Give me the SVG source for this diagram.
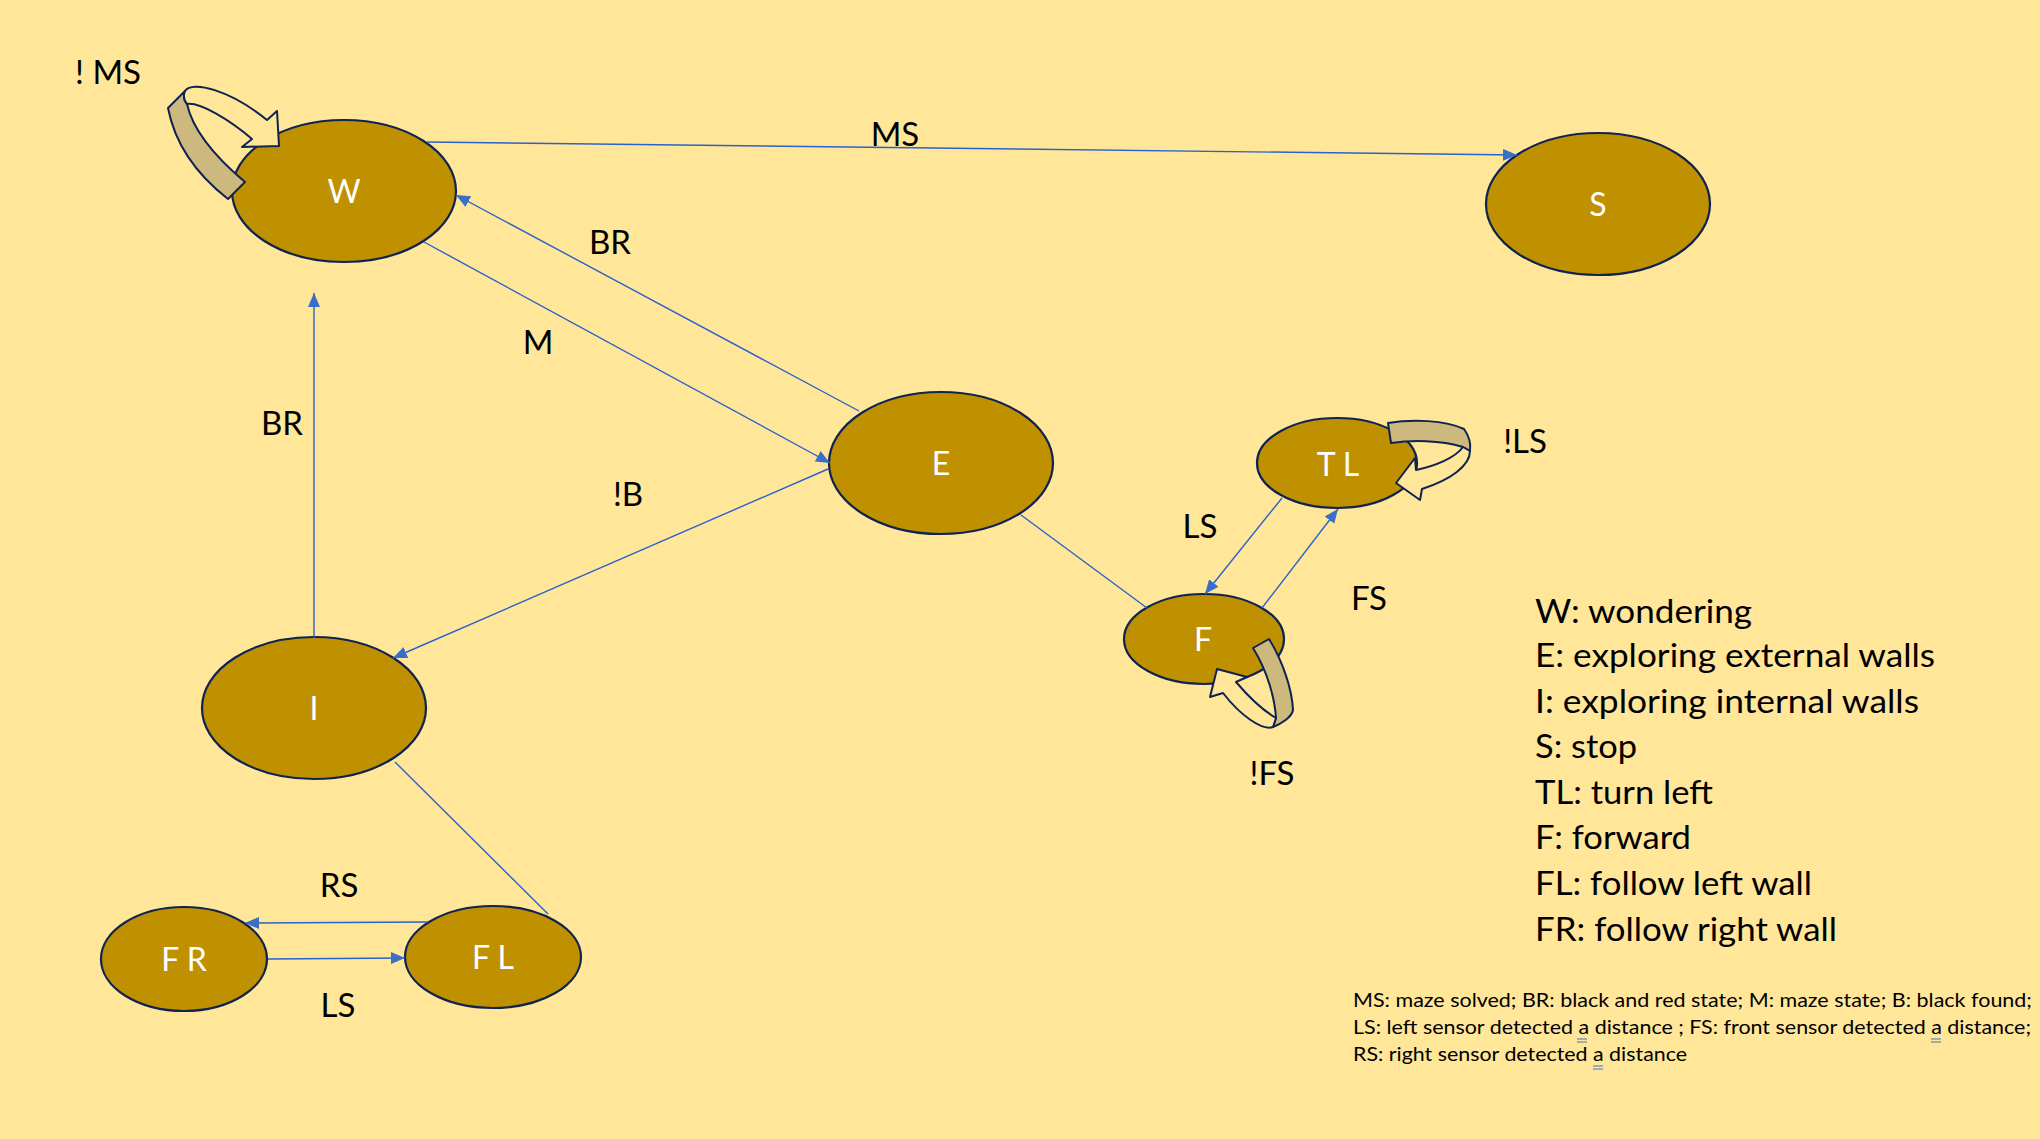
<svg xmlns="http://www.w3.org/2000/svg" width="2040" height="1139" viewBox="0 0 2040 1139">
<defs>
<style>
.node{fill:#BF9000;stroke:#0E2352;stroke-width:2.2}
.nl{font-family:Lato,"Open Sans","Liberation Sans",sans-serif;font-size:32px;fill:#FFFFFF;text-anchor:middle}
.el{font-family:Lato,"Open Sans","Liberation Sans",sans-serif;font-size:33px;fill:#000000;text-anchor:middle}
.lg{font-family:Lato,"Open Sans","Liberation Sans",sans-serif;font-size:32px;fill:#000000}
.fn{font-family:Lato,"Open Sans","Liberation Sans",sans-serif;font-size:20px;fill:#000000}
.edge{stroke:#2A62CC;stroke-width:1.4;fill:none}
.arr{marker-end:url(#ah)}
.back{fill:#CDB97D;stroke:#0E2352;stroke-width:2;stroke-linejoin:round}
.front{fill:#FFE699;stroke:#0E2352;stroke-width:2;stroke-linejoin:round}
.ul{stroke:#4472C4;stroke-width:1}
</style>
<marker id="ah" markerUnits="userSpaceOnUse" markerWidth="16" markerHeight="14" refX="14" refY="6" orient="auto">
<path d="M0,0 L14,6 L0,12 Z" fill="#3A6FC8"/>
</marker>
</defs>
<rect x="0" y="0" width="2040" height="1139" fill="#FFE699"/>

<g id="node-W"><ellipse class="node" cx="344" cy="191" rx="112" ry="71"/><text class="nl" x="344" y="203">W</text></g>
<g id="node-S"><ellipse class="node" cx="1598" cy="204" rx="112" ry="71"/><text class="nl" x="1598" y="216">S</text></g>
<g id="node-E"><ellipse class="node" cx="941" cy="463" rx="112" ry="71"/><text class="nl" x="941" y="475">E</text></g>
<g id="node-I"><ellipse class="node" cx="314" cy="708" rx="112" ry="71"/><text class="nl" x="314" y="720">I</text></g>
<g id="node-TL"><ellipse class="node" cx="1337" cy="463" rx="80" ry="45"/><text class="nl" x="1338" y="476">T L</text></g>
<g id="node-F"><ellipse class="node" cx="1204" cy="639" rx="80" ry="45"/><text class="nl" x="1203" y="651">F</text></g>
<g id="node-FR"><ellipse class="node" cx="184" cy="959" rx="83" ry="52"/><text class="nl" x="184" y="971">F R</text></g>
<g id="node-FL"><ellipse class="node" cx="493" cy="957" rx="88" ry="51"/><text class="nl" x="493" y="969">F L</text></g>

<g id="connectors">
<line class="edge arr" x1="427" y1="142" x2="1517" y2="155"/>
<line class="edge arr" x1="859" y1="411" x2="456" y2="195"/>
<line class="edge arr" x1="424" y1="242" x2="830" y2="463"/>
<line class="edge arr" x1="828" y1="469" x2="393" y2="658"/>
<line class="edge arr" x1="314" y1="638" x2="314" y2="293"/>
<line class="edge" x1="1021" y1="515" x2="1147" y2="608"/>
<line class="edge arr" x1="1282" y1="498" x2="1205" y2="594"/>
<line class="edge arr" x1="1262" y1="608" x2="1338" y2="509"/>
<line class="edge" x1="395" y1="762" x2="548" y2="914"/>
<line class="edge arr" x1="428" y1="922" x2="245" y2="923"/>
<line class="edge arr" x1="268" y1="959" x2="405" y2="958"/>

<g id="loop-W">
<path class="back" d="M168,108 L185,91 Q182,98 187,104 Q195,140 245,182 L228,199 Q178,160 168,108 Z"/>
<path class="front" d="M185,91 C192,80 230,90 267,120 L277,111 L279,146 L242,147 L252,139 C230,120 200,102 187,104 Q182,98 185,91 Z"/>
</g>
<g id="loop-TL">
<path class="back" d="M1388,423 C1412,419 1445,420 1464,429 C1469,436 1471,444 1470,451 L1463,447 C1440,440 1412,440 1391,443 Z"/>
<path class="front" d="M1470,451 C1470,466 1450,480 1422,489 L1420,500 L1396,483 L1415,458 L1416,470 C1435,466 1455,458 1463,447 Z"/>
</g>
<g id="loop-F">
<path class="back" d="M1253,648 L1269,639 C1282,660 1292,688 1293,710 C1292,717 1281,724 1273,727 L1276,718 C1275,700 1268,672 1253,648 Z"/>
<path class="front" d="M1273,727 C1262,731 1240,715 1223,693 L1210,697 L1217,669 L1247,677 L1236,682 C1248,696 1262,710 1276,718 Z"/>
</g>
</g>

<g id="edge-labels">
<text class="el" x="108" y="84">! MS</text>
<text class="el" x="895" y="146">MS</text>
<text class="el" x="610" y="254">BR</text>
<text class="el" x="538" y="354">M</text>
<text class="el" x="282" y="435">BR</text>
<text class="el" x="628" y="506">!B</text>
<text class="el" x="1200" y="538">LS</text>
<text class="el" x="1369" y="610">FS</text>
<text class="el" x="1525" y="453">!LS</text>
<text class="el" x="1272" y="785">!FS</text>
<text class="el" x="339" y="897">RS</text>
<text class="el" x="338" y="1017">LS</text>
</g>

<g id="legend">
<text class="lg" x="1535" y="623" textLength="217" lengthAdjust="spacingAndGlyphs">W: wondering</text>
<text class="lg" x="1535" y="667" textLength="400" lengthAdjust="spacingAndGlyphs">E: exploring external walls</text>
<text class="lg" x="1535" y="713" textLength="384" lengthAdjust="spacingAndGlyphs">I: exploring internal walls</text>
<text class="lg" x="1535" y="758" textLength="102" lengthAdjust="spacingAndGlyphs">S: stop</text>
<text class="lg" x="1535" y="804" textLength="178" lengthAdjust="spacingAndGlyphs">TL: turn left</text>
<text class="lg" x="1535" y="849" textLength="156" lengthAdjust="spacingAndGlyphs">F: forward</text>
<text class="lg" x="1535" y="895" textLength="277" lengthAdjust="spacingAndGlyphs">FL: follow left wall</text>
<text class="lg" x="1535" y="941" textLength="302" lengthAdjust="spacingAndGlyphs">FR: follow right wall</text>
</g>

<g id="footnote">
<text class="fn" x="1353" y="1007" textLength="679" lengthAdjust="spacingAndGlyphs">MS: maze solved; BR: black and red state; M: maze state; B: black found;</text>
<text class="fn" x="1353" y="1034" textLength="678" lengthAdjust="spacingAndGlyphs">LS: left sensor detected a distance ; FS: front sensor detected a distance;</text>
<text class="fn" x="1353" y="1061" textLength="334" lengthAdjust="spacingAndGlyphs">RS: right sensor detected a distance</text>
<line class="ul" x1="1577" y1="1039" x2="1587" y2="1039"/>
<line class="ul" x1="1577" y1="1042" x2="1587" y2="1042"/>
<line class="ul" x1="1931" y1="1039" x2="1941" y2="1039"/>
<line class="ul" x1="1931" y1="1042" x2="1941" y2="1042"/>
<line class="ul" x1="1593" y1="1066" x2="1603" y2="1066"/>
<line class="ul" x1="1593" y1="1069" x2="1603" y2="1069"/>
</g>
</svg>
